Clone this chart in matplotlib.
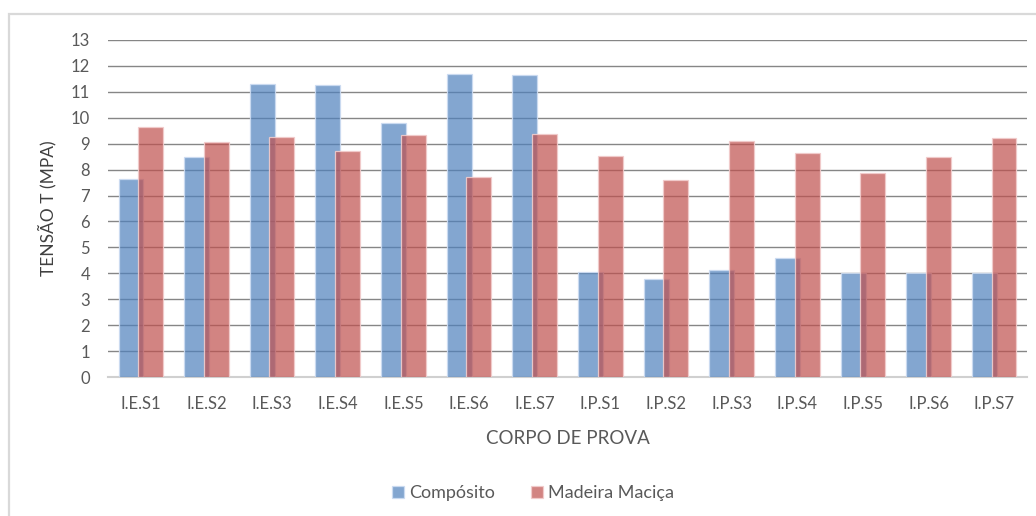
import matplotlib.pyplot as plt
import numpy as np
from matplotlib.patches import Rectangle

categories = ["I.E.S1", "I.E.S2", "I.E.S3", "I.E.S4", "I.E.S5", "I.E.S6", "I.E.S7",
              "I.P.S1", "I.P.S2", "I.P.S3", "I.P.S4", "I.P.S5", "I.P.S6", "I.P.S7"]
composito = [7.63, 8.50, 11.30, 11.25, 9.79, 11.69, 11.64,
             4.05, 3.77, 4.14, 4.60, 4.00, 4.00, 4.00]
madeira = [9.66, 9.07, 9.25, 8.70, 9.34, 7.71, 9.37,
           8.54, 7.60, 9.10, 8.63, 7.87, 8.49, 9.21]
series_names = ["Compósito", "Madeira Maciça"]
yticks = list(range(0, 14))

BLUE = (79 / 255, 129 / 255, 189 / 255, 0.7)
RED = (192 / 255, 80 / 255, 77 / 255, 0.7)
BLUE_EDGE = (0.80, 0.86, 0.95, 0.9)
RED_EDGE = (0.95, 0.80, 0.80, 0.9)
TEXT = "#595959"
FONT = "Lato"

fig = plt.figure(figsize=(10.36, 5.16), dpi=100)
fig.patch.set_facecolor("white")

# chart border, runs off the right/bottom edge like the source
fig.add_artist(Rectangle((9 / 1036, -0.05), 1.1, 1 - 14 / 516 + 0.05,
                         transform=fig.transFigure, facecolor="none",
                         edgecolor="#d9d9d9", linewidth=1.6))

ax = fig.add_axes([108 / 1036, 1 - 377 / 516, (1027 - 108) / 1036, (377 - 40) / 516])
x = np.arange(len(categories))
w = 0.38
off = 0.15
ax.bar(x - off, composito, width=w, color=BLUE, edgecolor=BLUE_EDGE, linewidth=0.9,
       label=series_names[0], zorder=3)
ax.bar(x + off, madeira, width=w, color=RED, edgecolor=RED_EDGE, linewidth=0.9,
       label=series_names[1], zorder=4)

ax.set_xlim(-0.5, len(categories) - 0.5)
ax.set_ylim(0, 13)
ax.set_yticks(yticks)
ax.set_xticks(x)
ax.set_xticklabels(categories)
ax.yaxis.grid(True, color="#868686", linewidth=1.0, zorder=0)
ax.set_axisbelow(True)
for s in ["top", "right", "left"]:
    ax.spines[s].set_visible(False)
ax.spines["bottom"].set_color("#d0d0d0")
ax.spines["bottom"].set_linewidth(1.5)
ax.tick_params(axis="both", length=0, labelsize=12, labelcolor=TEXT)
ax.tick_params(axis="y", pad=13)
ax.tick_params(axis="x", pad=14)
for lab in ax.get_xticklabels() + ax.get_yticklabels():
    lab.set_fontfamily(FONT)

ax.set_xlabel("CORPO DE PROVA", fontsize=13.5, color=TEXT, family=FONT, labelpad=13)
fig.text(47 / 1036, 1 - 208 / 516, "TENSÃO T (MPA)", rotation=90, ha="center", va="center",
         fontsize=12.5, color="#404040", family=FONT)

leg = fig.legend(loc="center", bbox_to_anchor=(533 / 1036, 1 - 493 / 516), ncol=2,
                 frameon=False, prop={"family": FONT, "size": 13},
                 handlelength=0.65, handleheight=0.65, handletextpad=0.3, columnspacing=2.0)
for t in leg.get_texts():
    t.set_color(TEXT)

fig.savefig("out.png", dpi=100, facecolor="white")
